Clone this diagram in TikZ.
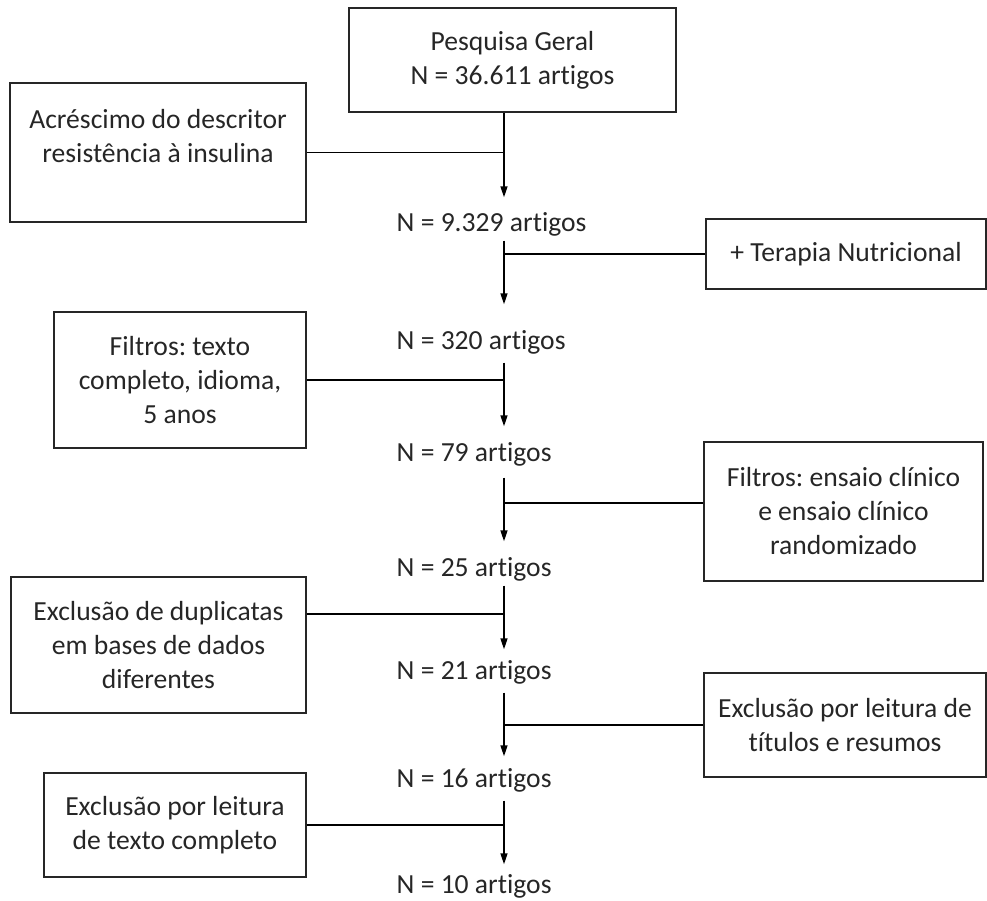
\documentclass[tikz,border=0pt]{standalone}
\usepackage{fontspec}
\setmainfont{Carlito}[Ligatures={NoCommon,NoContextual}]
\usetikzlibrary{arrows.meta}
\frenchspacing

\tikzset{every picture/.style={line width=1.4pt}}
\tikzset{
  boxnode/.style={draw=black!85, rectangle, align=center, inner sep=0pt, text=black!85, font=\fontsize{27.6}{34}\selectfont},
  numnode/.style={anchor=west, inner sep=0pt, text height=20pt, text depth=2pt, text=black!85, font=\fontsize{27.6}{34}\selectfont},
  flow/.style={draw=black, -{Triangle[length=11pt,width=7pt]}},
  side/.style={draw=black},
}

\begin{document}
\begin{tikzpicture}[x=1pt,y=1pt,yscale=-1,xscale=1]
    \useasboundingbox (0,0) rectangle (987,900);
    %Spine of the flow
    \coordinate (spine) at (504,0);
    \coordinate (j4) at (504,503);
    \coordinate (j5) at (504,614);

    %Rect
    \node [boxnode, minimum width=327, minimum height=104] (geral) at (512.5,60) {Pesquisa Geral\\N = 36.611 artigos};
    %Rect
    \node [boxnode, minimum width=296, minimum height=139] (acrescimo) at (158,152.5) {Acréscimo do descritor\\resistência à insulina\\\mbox{}};
    %Rect
    \node [boxnode, minimum width=280, minimum height=70] (terapia) at (846,254) {+ Terapia Nutricional};
    %Rect
    \node [boxnode, minimum width=252, minimum height=136] (filtrosa) at (180,380) {Filtros: texto\\completo, idioma,\\5 anos};
    %Rect
    \node [boxnode, minimum width=279, minimum height=139] (filtrosb) at (843.5,511.5) {Filtros: ensaio clínico\\e ensaio clínico\\randomizado};
    %Rect
    \node [boxnode, minimum width=295, minimum height=136] (duplicatas) at (158.5,645) {Exclusão de duplicatas\\em bases de dados\\diferentes};
    %Rect
    \node [boxnode, minimum width=282, minimum height=104] (leituraa) at (845,725) {Exclusão por leitura de\\títulos e resumos};
    %Rect
    \node [boxnode, minimum width=262, minimum height=104] (leiturab) at (175,825) {Exclusão por leitura\\de texto completo};

    % Text Node
    \node [numnode] (n9329) at (396,222) {N = 9.329 artigos};
    % Text Node
    \node [numnode] (n320) at (396,340) {N = 320 artigos};
    % Text Node
    \node [numnode] (n79) at (396,452) {N = 79 artigos};
    % Text Node
    \node [numnode] (n25) at (396,567) {N = 25 artigos};
    % Text Node
    \node [numnode] (n21) at (396,670) {N = 21 artigos};
    % Text Node
    \node [numnode] (n16) at (396,778) {N = 16 artigos};
    % Text Node
    \node [numnode] (n10) at (396,884) {N = 10 artigos};

    %Straight Lines
    \draw [flow, shorten >=13pt] (geral.south -| spine) -- (n9329.north -| spine);
    \draw [side] (acrescimo.east) -- (acrescimo.east -| spine);
    %Straight Lines
    \draw [flow, shorten <=7pt, shorten >=24pt] (n9329.south -| spine) -- (n320.north -| spine);
    \draw [side] (terapia.west) -- (terapia.west -| spine);
    %Straight Lines
    \draw [flow, shorten <=11pt, shorten >=14pt] (n320.south -| spine) -- (n79.north -| spine);
    \draw [side] (filtrosa.east) -- (filtrosa.east -| spine);
    %Straight Lines
    \draw [flow, shorten <=14pt, shorten >=14pt] (n79.south -| spine) -- (n25.north -| spine);
    \draw [side] (j4 -| filtrosb.west) -- (j4);
    %Straight Lines
    \draw [flow, shorten <=7pt, shorten >=9pt] (n25.south -| spine) -- (n21.north -| spine);
    \draw [side] (j5 -| duplicatas.east) -- (j5);
    %Straight Lines
    \draw [flow, shorten <=11pt, shorten >=10pt] (n21.south -| spine) -- (n16.north -| spine);
    \draw [side] (leituraa.west) -- (leituraa.west -| spine);
    %Straight Lines
    \draw [flow, shorten <=11pt, shorten >=8pt] (n16.south -| spine) -- (n10.north -| spine);
    \draw [side] (leiturab.east) -- (leiturab.east -| spine);

\end{tikzpicture}
\end{document}
